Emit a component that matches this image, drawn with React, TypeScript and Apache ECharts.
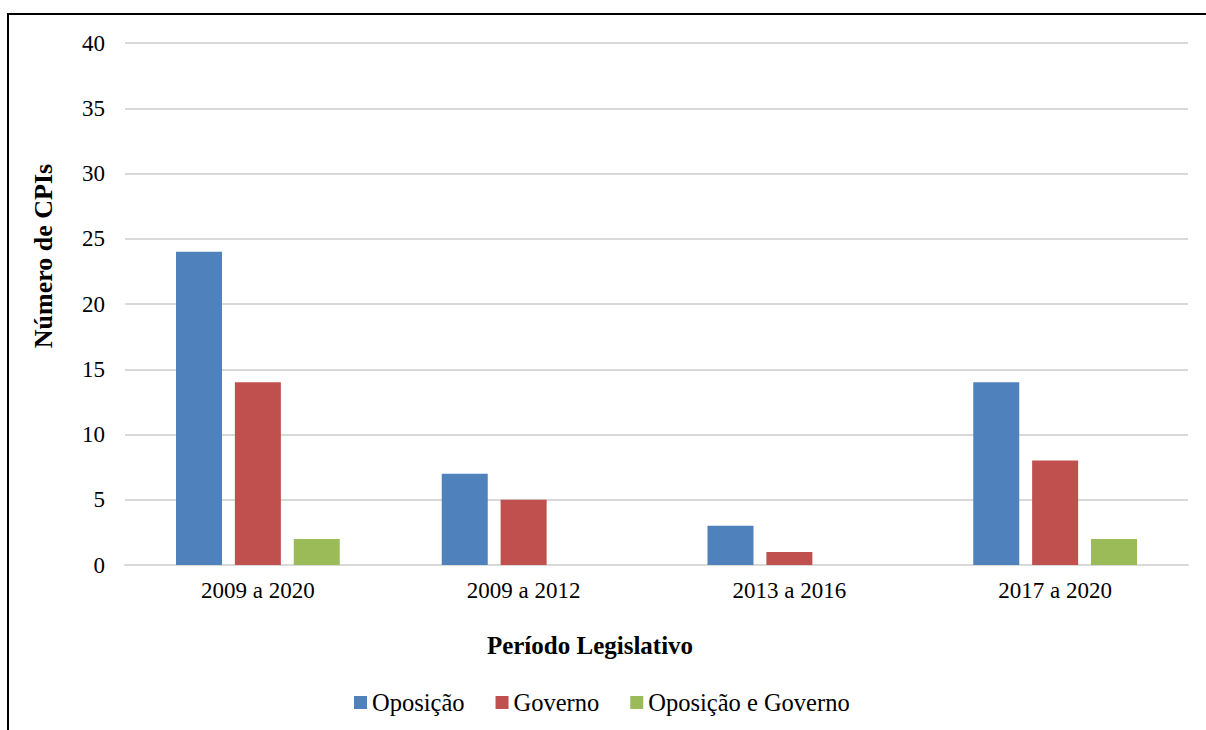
import React, { useEffect, useRef } from "react";
import * as echarts from "echarts";

const categories = ["2009 a 2020", "2009 a 2012", "2013 a 2016", "2017 a 2020"];
const oposicao = [24, 7, 3, 14];
const governo = [14, 5, 1, 8];
const oposicaoEGoverno = [2, 0, 0, 2];
const seriesNames = ["Oposição", "Governo", "Oposição e Governo"];
const colors = ["#4F81BD", "#C0504D", "#9BBB59"];
const yTitle = "Número de CPIs";
const xTitle = "Período Legislativo";

const FONT = "'Liberation Serif', 'Times New Roman', serif";

export default function App() {
  const ref = useRef<HTMLDivElement>(null);
  useEffect(() => {
    if (!ref.current) return;
    const chart = echarts.init(ref.current, undefined, { renderer: "svg" });
    const values = [oposicao, governo, oposicaoEGoverno];
    chart.setOption({
      animation: false,
      backgroundColor: "#ffffff",
      textStyle: { fontFamily: FONT },
      grid: { left: 125, right: 18, top: 43, bottom: 165, containLabel: false },
      legend: {
        left: 349,
        top: 685,
        itemWidth: 13,
        itemHeight: 13,
        itemGap: 31,
        icon: "rect",
        textStyle: { fontFamily: FONT, fontSize: 24.5, color: "#000" },
        data: seriesNames,
      },
      xAxis: {
        type: "category",
        data: categories,
        axisLine: { show: true, lineStyle: { color: "#d9d9d9", width: 2 } },
        axisTick: { show: false },
        axisLabel: { fontFamily: FONT, fontSize: 23, color: "#000", margin: 14 },
      },
      yAxis: {
        type: "value",
        min: 0,
        max: 40,
        interval: 5,
        axisLine: { show: false },
        axisTick: { show: false },
        splitLine: { lineStyle: { color: "#d9d9d9", width: 2 } },
        axisLabel: { fontFamily: FONT, fontSize: 23, color: "#000", margin: 20 },
      },
      series: seriesNames.map((name, i) => ({
        name,
        type: "bar",
        data: values[i],
        barWidth: 46,
        barGap: "28%",
        itemStyle: { color: colors[i] },
      })),
      graphic: [
        {
          type: "rect",
          shape: { x: 8, y: 14, width: 1220, height: 740 },
          style: { fill: "none", stroke: "#000", lineWidth: 2 },
          silent: true,
        },
        {
          type: "text",
          x: 43,
          y: 256,
          rotation: Math.PI / 2,
          style: {
            text: yTitle,
            fontFamily: FONT,
            fontSize: 26,
            fontWeight: "bold",
            fill: "#000",
            align: "center",
            verticalAlign: "middle",
          },
        },
        {
          type: "text",
          x: 590,
          y: 645,
          style: {
            text: xTitle,
            fontFamily: FONT,
            fontSize: 25,
            fontWeight: "bold",
            fill: "#000",
            align: "center",
            verticalAlign: "middle",
          },
        },
      ],
    });
    return () => chart.dispose();
  }, []);
  return (
    <div
      ref={ref}
      style={{ position: "fixed", left: 0, top: 0, width: 1206, height: 730 }}
    />
  );
}
